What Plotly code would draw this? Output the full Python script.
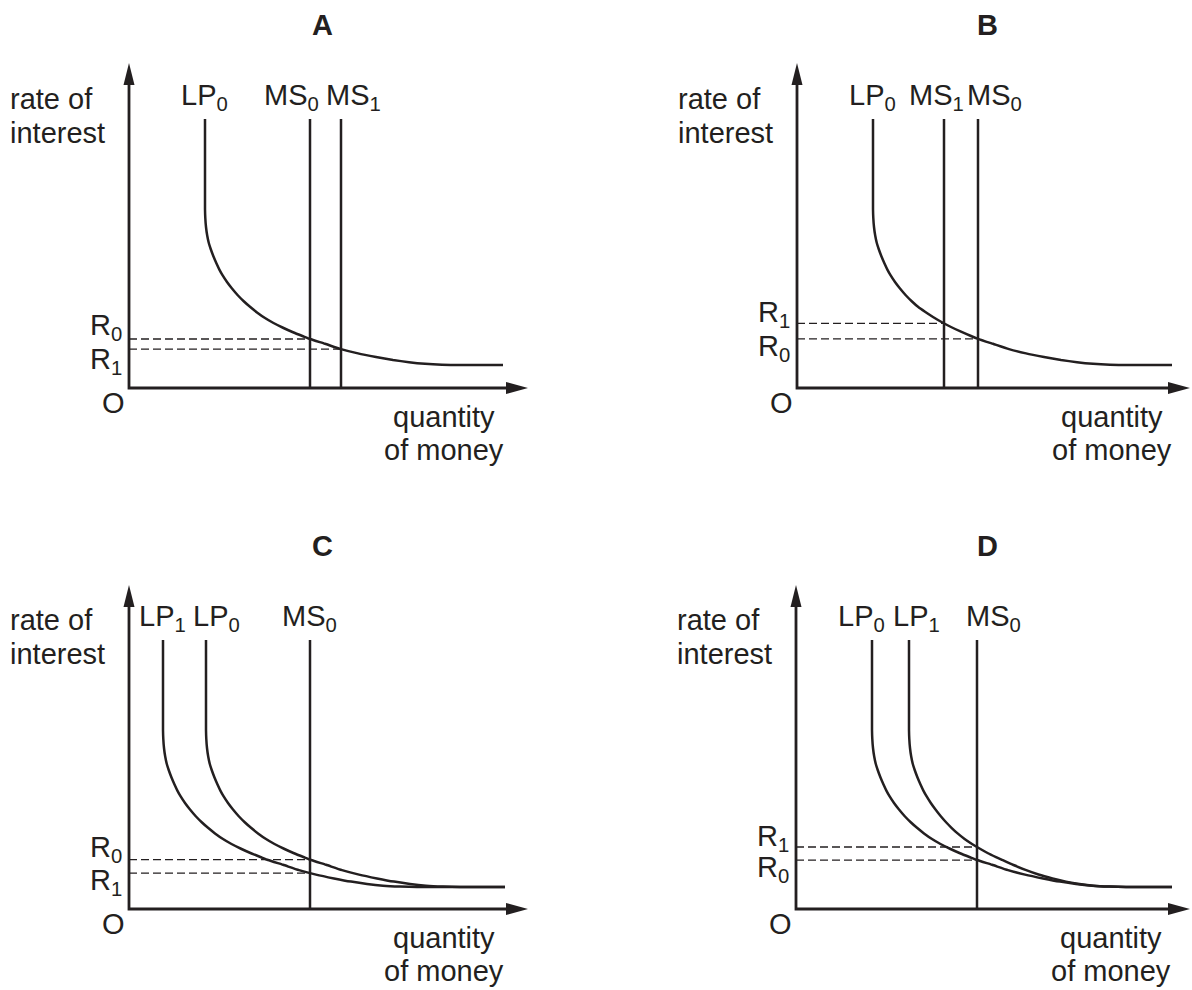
import plotly.graph_objects as go

# ---------------- data (arbitrary units, origin O = (0, 0)) ----------------
# Panel A : LP0 with MS0 -> MS1
A_LP0_x = [76, 76, 76.3, 77, 78.2, 79.8, 81.7, 84.5, 87.5, 90.5, 93.5, 98, 103, 109, 115, 121, 128, 136,
           144.5, 154, 164, 174, 181, 196, 212, 229, 247, 264, 280, 296, 313, 330, 374]
A_LP0_y = [269, 179, 170, 161, 152.5, 145, 139, 131.5, 124.5, 118.2, 112.8, 106, 99.5, 92.5, 86.5, 81.2, 75.6, 70,
           65, 60.25, 55.75, 51.75, 49, 44.2, 38.9, 34.6, 31, 28, 25.8, 24.2, 23.3, 23, 23]
A_MS = {"MS<sub>0</sub>": 181, "MS<sub>1</sub>": 212}
A_R = {"R<sub>0</sub>": (49, 181), "R<sub>1</sub>": (38.9, 212)}

# Panel B : LP0 with MS1 < MS0
B_LP0_x = [76, 76, 76.3, 77, 78.2, 79.8, 81.7, 84.5, 87.5, 90.5, 93.5, 98, 103, 109, 115, 121, 128, 136,
           144.5, 154, 164, 174, 181, 196, 212, 229, 247, 264, 280, 296, 313, 330, 375]
B_LP0_y = [269, 179, 170, 161, 152.5, 145, 139, 131.5, 124.5, 118.2, 112.8, 106, 99.5, 92.5, 86.5, 81.2, 76.2, 71,
           66, 61, 56.3, 52, 49.2, 44.2, 38.9, 34.6, 31, 28, 25.8, 24.2, 23.3, 23, 23]
B_MS = {"MS<sub>1</sub>": 147, "MS<sub>0</sub>": 181}
B_R = {"R<sub>1</sub>": (64.7, 147), "R<sub>0</sub>": (49.2, 181)}

# Panel C : LP1 left of LP0, MS0
C_LP1_x = [34, 34, 34.3, 35, 36.2, 37.8, 39.7, 42.5, 45.5, 48.5, 51.5, 56, 61, 67, 73, 79, 86, 94,
           102.5, 112, 122, 132, 139, 154, 170, 187, 205, 222, 238, 254, 271, 288, 376]
C_LP1_y = [269, 179, 170, 161, 152.5, 145, 139, 131.5, 124.5, 118.2, 112.8, 106, 99.5, 92.5, 86.5, 81.2, 75.6, 70,
           65, 60.25, 55.75, 51.75, 49, 44.2, 38.9, 34.4, 30.6, 27.4, 25, 23.3, 22.4, 22, 22]
C_LP0_x = [77, 77, 77.3, 78, 79.2, 80.8, 82.7, 85.5, 88.5, 91.5, 94.5, 99, 104, 110, 116, 122, 129, 137,
           145.5, 155, 165, 175, 182, 197, 213, 230, 248, 265, 281, 297, 314, 331, 376]
C_LP0_y = [269, 179, 170, 161, 152.5, 145, 139, 131.5, 124.5, 118.2, 112.8, 106, 99.5, 92.5, 86.5, 81.2, 75.6, 70,
           65, 60.25, 55.75, 51.75, 49, 44.2, 38.9, 34.4, 30.6, 27.4, 25, 23.3, 22.4, 22, 22]
C_MS = {"MS<sub>0</sub>": 181}
C_R = {"R<sub>0</sub>": (49.3, 181), "R<sub>1</sub>": (35.8, 181)}

# Panel D : LP1 right of LP0, MS0
D_LP0_x = [76, 76, 76.3, 77, 78.2, 79.8, 81.7, 84.5, 87.5, 90.5, 93.5, 98, 103, 109, 115, 121, 128, 136,
           144.5, 154, 164, 174, 181, 196, 212, 229, 247, 264, 280, 296, 313, 330, 376]
D_LP0_y = [269, 179, 170, 161, 152.5, 145, 139, 131.5, 124.5, 118.2, 112.8, 106, 99.5, 92.5, 86.5, 81.2, 75.6, 70,
           65, 60.25, 55.75, 51.75, 49, 44.2, 38.9, 34.4, 30.6, 27.4, 25, 23.3, 22.4, 22, 22]
D_LP1_x = [113, 113, 113.3, 114, 115.2, 116.8, 118.7, 121.5, 124.5, 127.5, 130.5, 134.8, 139.5, 145, 150.3, 155.5,
           161.6, 168.6, 176, 184, 192, 200, 205.5, 217.5, 229.5, 242.5, 256.5, 270, 283.5, 297.5, 313.5, 330, 376]
D_LP1_y = [269, 179, 170, 161, 152.5, 145, 139, 131.5, 124.5, 118.2, 112.8, 106, 99.5, 92.5, 86.5, 81.2,
           75.6, 70, 65, 60.25, 55.75, 51.9, 49.4, 44, 39.1, 34.5, 30.6, 27.4, 25, 23.3, 22.4, 22, 22]
D_MS = {"MS<sub>0</sub>": 181}
D_R = {"R<sub>1</sub>": (62, 181), "R<sub>0</sub>": (48.8, 181)}

LINE_TOP = 269

# ---------------- layout / style ----------------
INK = "#231f20"
FONT = "Liberation Sans, Arial, Helvetica, sans-serif"
FS = 29
W, H = 1192, 990
PPU = 1.0  # pixels per data unit

panels = [
    dict(name="A", ox=129, oy=388, box=(0, 0, 560, 495), xend=399, ytop=325,
         curves=[(A_LP0_x, A_LP0_y)], ms=A_MS, rates=A_R,
         curve_labels=[("LP<sub>0</sub>", 52), ("MS<sub>0</sub>", 135), ("MS<sub>1</sub>", 197)],
         rlab_y={"R<sub>0</sub>": 79.2, "R<sub>1</sub>": 45.2}, title_x=193),
    dict(name="B", ox=797, oy=388, box=(600, 0, 1192, 495), xend=393, ytop=325,
         curves=[(B_LP0_x, B_LP0_y)], ms=B_MS, rates=B_R,
         curve_labels=[("LP<sub>0</sub>", 52), ("MS<sub>1</sub>", 112), ("MS<sub>0</sub>", 170)],
         rlab_y={"R<sub>1</sub>": 92.2, "R<sub>0</sub>": 58.2}, title_x=190),
    dict(name="C", ox=129, oy=909, box=(0, 500, 560, 990), xend=399, ytop=324,
         curves=[(C_LP1_x, C_LP1_y), (C_LP0_x, C_LP0_y)], ms=C_MS, rates=C_R,
         curve_labels=[("LP<sub>1</sub>", 10), ("LP<sub>0</sub>", 64), ("MS<sub>0</sub>", 153)],
         rlab_y={"R<sub>0</sub>": 78, "R<sub>1</sub>": 45.2}, title_x=193),
    dict(name="D", ox=796, oy=909, box=(600, 500, 1192, 990), xend=394, ytop=324,
         curves=[(D_LP0_x, D_LP0_y), (D_LP1_x, D_LP1_y)], ms=D_MS, rates=D_R,
         curve_labels=[("LP<sub>0</sub>", 42), ("LP<sub>1</sub>", 97), ("MS<sub>0</sub>", 170)],
         rlab_y={"R<sub>1</sub>": 89.2, "R<sub>0</sub>": 57.6}, title_x=191),
]

fig = go.Figure()
annotations = []
shapes = []
layout_axes = {}


def ann(xr, yr, text, x, y, xanchor="left", size=FS):
    annotations.append(dict(
        xref=xr, yref=yr, x=x, y=y, text=text, showarrow=False,
        xanchor=xanchor, yanchor="top", borderpad=0, borderwidth=0,
        font=dict(family=FONT, size=size, color=INK)))


for i, p in enumerate(panels):
    sfx = "" if i == 0 else str(i + 1)
    xr, yr = "x" + sfx, "y" + sfx
    bx0, by0, bx1, by1 = p["box"]
    layout_axes["xaxis" + sfx] = dict(
        domain=[bx0 / W, bx1 / W], range=[(bx0 - p["ox"]) / PPU, (bx1 - p["ox"]) / PPU],
        visible=False, fixedrange=True, anchor=yr)
    layout_axes["yaxis" + sfx] = dict(
        domain=[1 - by1 / H, 1 - by0 / H], range=[(p["oy"] - by1) / PPU, (p["oy"] - by0) / PPU],
        visible=False, fixedrange=True, anchor=xr)

    # axes of the diagram
    fig.add_trace(go.Scatter(x=[0, 0, p["xend"] - 16], y=[p["ytop"] - 16, 0, 0], mode="lines",
                             line=dict(color=INK, width=2.8), xaxis=xr, yaxis=yr,
                             hoverinfo="skip", showlegend=False))
    shapes.append(dict(type="path", xref=xr, yref=yr, xsizemode="pixel", ysizemode="pixel",
                       xanchor=0, yanchor=p["ytop"], path="M 0,0 L -5.5,-22 L 5.5,-22 Z",
                       fillcolor=INK, line=dict(width=0), layer="above"))
    shapes.append(dict(type="path", xref=xr, yref=yr, xsizemode="pixel", ysizemode="pixel",
                       xanchor=p["xend"], yanchor=0, path="M 0,0 L -22,6 L -22,-6 Z",
                       fillcolor=INK, line=dict(width=0), layer="above"))

    # dashed interest-rate lines
    for rname, (rv, xv) in p["rates"].items():
        fig.add_trace(go.Scatter(x=[0, xv], y=[rv, rv], mode="lines",
                                 line=dict(color=INK, width=1.3, dash="8px,4px"),
                                 xaxis=xr, yaxis=yr, hoverinfo="skip", showlegend=False))
        ann(xr, yr, rname, -39, p["rlab_y"][rname])

    # money supply lines
    for mname, mv in p["ms"].items():
        fig.add_trace(go.Scatter(x=[mv, mv], y=[0, LINE_TOP], mode="lines",
                                 line=dict(color=INK, width=2.5),
                                 xaxis=xr, yaxis=yr, hoverinfo="skip", showlegend=False))

    # liquidity preference curves
    for cx, cy in p["curves"]:
        fig.add_trace(go.Scatter(x=cx, y=cy, mode="lines",
                                 line=dict(color=INK, width=2.5, shape="spline", smoothing=0.5),
                                 xaxis=xr, yaxis=yr, hoverinfo="skip", showlegend=False))

    for lab, lx in p["curve_labels"]:
        ann(xr, yr, lab, lx, 309.2)

    ann(xr, yr, "rate of", -119, 305.2)
    ann(xr, yr, "interest", -119, 271.2)
    ann(xr, yr, "O", -16, 1, xanchor="center")
    ann(xr, yr, "quantity", 315, -12.8, xanchor="center")
    ann(xr, yr, "of money", 315, -45.8, xanchor="center")
    ann(xr, yr, "<b>" + p["name"] + "</b>", p["title_x"], 379.2, xanchor="center")

fig.update_layout(
    width=W, height=H, autosize=False,
    margin=dict(l=0, r=0, t=0, b=0, pad=0),
    paper_bgcolor="white", plot_bgcolor="white",
    showlegend=False, annotations=annotations, shapes=shapes,
    **layout_axes)

fig.write_html("out.html", config={"displayModeBar": False},
               post_script="document.body.style.margin='0';")
